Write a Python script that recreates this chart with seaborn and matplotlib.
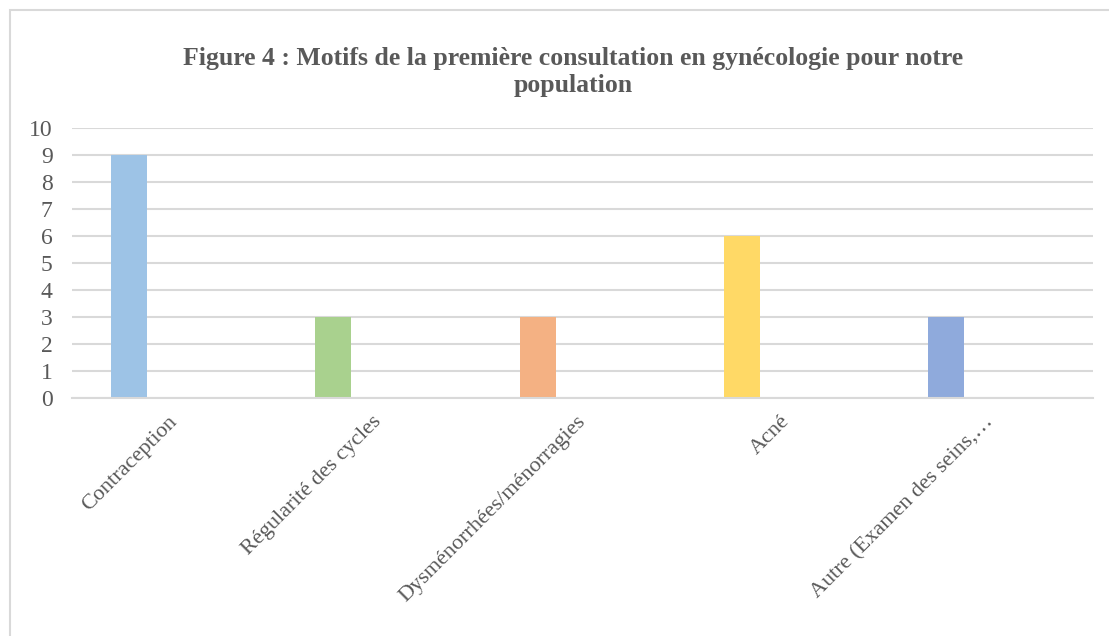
import matplotlib
matplotlib.use("Agg")
import matplotlib.pyplot as plt
import matplotlib.patches as mpatches
import seaborn as sns
import pandas as pd

categories = ["Contraception", "Régularité des cycles", "Dysménorrhées/ménorragies",
              "Acné", "Autre (Examen des seins,…"]
values = [9, 3, 3, 6, 3]
colors = ["#9DC3E6", "#A9D18E", "#F4B183", "#FFD966", "#8FAADC"]
yticks = list(range(0, 11))
title = "Figure 4 : Motifs de la première consultation en gynécologie pour notre\npopulation"

sns.set_theme(style="white")
plt.rcParams['font.family'] = ['Liberation Serif', 'DejaVu Serif']

# long format: the real series plus an empty companion series (as in the source workbook)
df = pd.DataFrame({
    "cat": categories * 2,
    "val": values + [0] * len(values),
    "serie": ["valeur"] * len(values) + ["vide"] * len(values),
})

fig = plt.figure(figsize=(11.09, 6.36), dpi=100)
ax = fig.add_axes([72/1109, 1 - 398/636, (1093-72)/1109, (398-128)/636])

sns.barplot(data=df, x="cat", y="val", hue="serie", order=categories,
            hue_order=["valeur", "vide"], width=0.88, gap=0.6, dodge=True,
            legend=False, ax=ax, saturation=1)
for bar, c in zip(ax.containers[0], colors):
    bar.set_facecolor(c)
    bar.set_edgecolor("none")

ax.set_ylim(0, 10)
ax.set_yticks(yticks)
ax.set_xlim(-0.5, len(categories) - 0.5)
ax.yaxis.grid(True, color="#D9D9D9", linewidth=1.5)
ax.set_axisbelow(True)
for s in ["top", "right", "left"]:
    ax.spines[s].set_visible(False)
ax.spines["bottom"].set_color("#D9D9D9")
ax.spines["bottom"].set_linewidth(1.5)
ax.set_xlabel("")
ax.set_ylabel("")
ax.tick_params(axis="y", length=0, pad=14, labelsize=17, labelcolor="#595959")
ax.tick_params(axis="x", length=0, pad=15, labelsize=16, labelcolor="#595959")
for lab in ax.get_xticklabels():
    lab.set_rotation(45)
    lab.set_ha("right")
    lab.set_va("center")
    lab.set_rotation_mode("anchor")

fig.text(573/1109, 1 - 72/636, title, ha="center", va="center",
         fontsize=18.5, fontweight="bold", color="#595959", linespacing=1.25)

fig.patches.append(mpatches.Rectangle((10/1109, -0.1), 1.2, 1 - 10/636 + 0.1,
                                      transform=fig.transFigure, fill=False,
                                      edgecolor="#D9D9D9", linewidth=1.5))

fig.savefig("out.png", dpi=100)
